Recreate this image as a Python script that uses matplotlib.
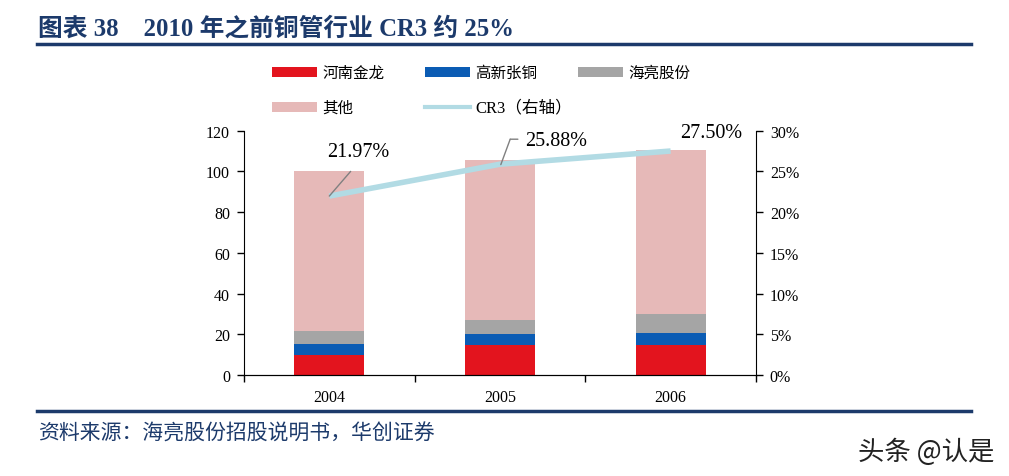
import matplotlib
matplotlib.use("Agg")
import matplotlib.pyplot as plt
from matplotlib.patches import Rectangle
from matplotlib.lines import Line2D

years = ["2004", "2005", "2006"]
jinlong = [9.8, 14.7, 14.7]
gaoxin = [5.3, 5.6, 5.9]
hailiang = [6.5, 6.7, 9.5]
others = [78.4, 78.4, 80.4]
cr3 = [21.97, 25.88, 27.50]
cr3_labels = ["21.97%", "25.88%", "27.50%"]
series_names = ["河南金龙", "高新张铜", "海亮股份", "其他", "CR3（右轴）"]

C_RED = "#E3141E"
C_BLUE = "#0B5CB4"
C_GRAY = "#A5A5A5"
C_PINK = "#E6B9B8"
C_LINE = "#B2DBE4"
NAVY = "#1C3A6B"

SERIF = ["Liberation Serif", "Noto Sans CJK SC"]
CJK = ["Noto Sans CJK SC", "Liberation Serif"]

W, H = 1009, 477
fig = plt.figure(figsize=(W / 100, H / 100), dpi=100)
ax = fig.add_axes([0.2418, 0.2117, 0.5074, 0.5123])
x = list(range(len(years)))
w = 0.41
b2 = [a + b for a, b in zip(jinlong, gaoxin)]
b3 = [a + b for a, b in zip(b2, hailiang)]
ax.bar(x, jinlong, w, color=C_RED, zorder=2)
ax.bar(x, gaoxin, w, bottom=jinlong, color=C_BLUE, zorder=2)
ax.bar(x, hailiang, w, bottom=b2, color=C_GRAY, zorder=2)
ax.bar(x, others, w, bottom=b3, color=C_PINK, zorder=2)

ax.set_xlim(-0.5, 2.5)
ax.set_ylim(0, 120)
ax.set_yticks(range(0, 121, 20))
ax.set_xticks(x)
ax.set_xticklabels(years)
ax.set_xticks([-0.5, 0.5, 1.5, 2.5], minor=True)
ax.tick_params(axis="x", which="major", length=0, pad=10)
ax.tick_params(axis="x", which="minor", length=5, direction="out", width=1)
ax.tick_params(axis="y", length=5, direction="out", width=1, pad=5)
ax.spines["top"].set_visible(False)
ax.spines["right"].set_visible(False)
for lab in ax.get_xticklabels() + ax.get_yticklabels():
    lab.set_fontfamily(SERIF)
    lab.set_fontsize(11.5)

ax2 = ax.twinx()
ax2.set_ylim(0, 30)
ax2.set_yticks(range(0, 31, 5))
ax2.set_yticklabels([f"{v}%" for v in range(0, 31, 5)])
ax2.tick_params(axis="y", length=5, direction="out", width=1, pad=5)
ax2.spines["top"].set_visible(False)
ax2.spines["left"].set_visible(False)
for lab in ax2.get_yticklabels():
    lab.set_fontfamily(SERIF)
    lab.set_fontsize(11.5)
ax2.plot(x, cr3, color=C_LINE, lw=4, solid_capstyle="butt", zorder=3)

# data labels with leader lines
lead = dict(arrowstyle="-", color="#808080", lw=1, shrinkA=0, shrinkB=0)
ax2.text(x[0] + 0.17, 27.5, cr3_labels[0], fontsize=14.5, fontfamily=SERIF,
         ha="center", va="center")
ax2.annotate("", xy=(x[0], cr3[0]), xytext=(x[0] + 0.125, 25.0), arrowprops=lead)
ax2.text(x[1] + 0.15, 28.75, cr3_labels[1], fontsize=14.5, fontfamily=SERIF,
         ha="left", va="center")
ax2.annotate("", xy=(x[1] + 0.005, cr3[1] - 0.05), xytext=(x[1] + 0.06, 28.95), arrowprops=lead)
ax2.annotate("", xy=(x[1] + 0.06, 28.95), xytext=(x[1] + 0.105, 28.95), arrowprops=lead)
ax2.text(x[2] + 0.24, 29.75, cr3_labels[2], fontsize=14.5, fontfamily=SERIF,
         ha="center", va="center")

# legend (manual layout)
leg_cols = [272, 425, 578]
leg_rows = [73, 108]
leg_items = [(C_RED, "patch"), (C_BLUE, "patch"), (C_GRAY, "patch"),
             (C_PINK, "patch"), (C_LINE, "line")]
for i, (col, kind) in enumerate(leg_items):
    px = leg_cols[i % 3]
    py = leg_rows[i // 3]
    if kind == "patch":
        fig.add_artist(Rectangle((px / W, (H - py - 5) / H), 45 / W, 10 / H,
                                 transform=fig.transFigure, color=col, lw=0))
    else:
        fig.add_artist(Line2D([px / W, (px + 45) / W], [(H - py) / H] * 2,
                              transform=fig.transFigure, color=col, lw=3))
    name = series_names[i]
    fam = SERIF if name.startswith("CR3") else CJK
    fs = 12 if name.startswith("CR3") else 11.2
    fig.text((px + 50) / W, (H - py) / H, name, fontsize=fs, fontfamily=fam,
             va="center", ha="left")

# title and rules
fig.text(0.038, 0.94, "图表 38    2010 年之前铜管行业 CR3 约 25%", fontsize=17.8,
         fontweight="bold", color=NAVY, fontfamily=SERIF, va="center", ha="left")
fig.add_artist(Line2D([0.037, 0.962], [0.906, 0.906], color=NAVY, lw=2.5))
fig.add_artist(Line2D([0.037, 0.962], [0.136, 0.136], color=NAVY, lw=2.5))
fig.text(0.038, 0.090, "资料来源：海亮股份招股说明书，华创证券", fontsize=15,
         style="italic", color=NAVY, fontfamily=CJK, va="center", ha="left")
fig.text(0.986, 0.052, "头条 @认是", fontsize=19, color="#222222",
         fontfamily=CJK, va="center", ha="right")

fig.savefig("out.png", dpi=100)
